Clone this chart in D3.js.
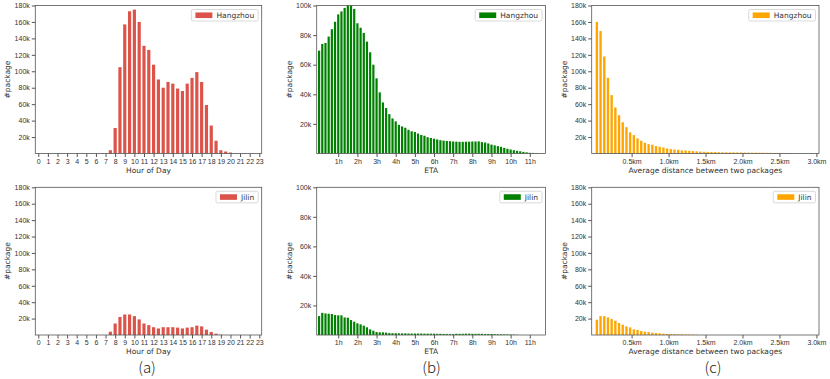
<!doctype html>
<html lang="en">
<head>
<meta charset="UTF-8">
<title>Package statistics</title>
<style>
  body { margin: 0; background: #fff; }
  svg { display: block; font-family: "DejaVu Sans", sans-serif; }
  .tick text { font-size: 7px; fill: #333; }
  .tick line { stroke: #555; }
  .domain { display: none; }
  .frame { fill: none; stroke: #555; stroke-width: 0.8; }
  .lab { font-size: 7.5px; fill: #333; }
  .cap { font-family: "Noto Sans CJK SC", "DejaVu Sans", sans-serif; font-size: 15px; fill: #222; font-weight: 300; }
</style>
</head>
<body>
<script src="https://cdn.jsdelivr.net/npm/d3@7"></script>
<script>
// hour of day (half-hour bins), thousands of packages
var hourBinsHZ = [7.5, 8, 8.5, 9, 9.5, 10, 10.5, 11, 11.5, 12, 12.5, 13, 13.5, 14, 14.5, 15, 15.5, 16, 16.5, 17, 17.5, 18, 18.5, 19, 19.5, 20];
var hourHZ = [4, 31, 105, 157, 173, 175, 160, 131, 126, 108, 90, 80, 87, 85, 79, 76, 85, 92, 99, 87, 59, 34, 15.5, 4, 2.4, 1.2];
var hourBinsJL = [7.5, 8, 8.5, 9, 9.5, 10, 10.5, 11, 11.5, 12, 12.5, 13, 13.5, 14, 14.5, 15, 15.5, 16, 16.5, 17, 17.5, 18, 18.5, 19];
var hourJL = [4, 14, 22, 25, 25, 23, 19, 14, 12, 9.5, 8, 9.5, 9.5, 9.5, 9, 8, 9, 9.5, 11.5, 10.5, 6.5, 3.7, 1.6, 0.4];

// ETA, 10-minute bins starting at 0h
var etaStep = 1 / 6;
var etaHZ = [69.5, 74, 74.7, 79, 84, 89, 94, 96, 98.4, 100, 100, 97.7, 88, 85, 81.5, 75.6, 68.4, 60, 50.8, 41.3,
  34.5, 30.7, 26.6, 23.7, 21.7, 19.4, 18.3, 17.4, 16, 15, 14.5, 13.5, 12.5, 12, 11, 10.5, 10, 9.5, 9, 8.7,
  8.5, 8.3, 8.1, 8, 7.9, 7.9, 8, 8, 8.1, 8.1, 8.2, 7.7, 7.4, 6.8, 6, 5.5, 5, 4.5, 3.8, 3.2,
  2.7, 2.2, 1.8, 1.5, 1.1, 0.8, 0.5, 0.4, 0.3];
var etaJL = [12.8, 15, 14.6, 14.4, 14.2, 13.5, 13.3, 13.3, 11.9, 11.7, 10.1, 9, 7.9, 7.2, 6.3, 5.2, 3.8, 2.9, 2, 1.8,
  1.8, 1.6, 1.3, 1.2, 1.2, 1.1, 1.1, 1.1, 1, 1, 1, 1, 1, 0.9, 0.9, 0.9, 0.9, 0.8, 0.8, 0.7,
  0.7, 0.6, 0.6, 0.8, 0.8, 0.8, 0.9, 0.9, 0.8, 0.8, 0.8, 0.8, 0.7, 0.7, 0.7, 0.6, 0.5, 0.5, 0.4, 0.4,
  0.3, 0.3, 0.2];

// average distance between two packages, 0.05km bins
var distStart = 0.03, distStep = 0.05;
var distHZ = [160, 149, 118, 92, 71, 56, 46.5, 38, 32, 25.7, 22.4, 18.4, 15.5, 13, 11.4, 10.6, 9, 8.2, 7.3, 6.1,
  5.3, 4.9, 4.5, 3.7, 3.7, 3.3, 2.9, 2.6, 2.3, 2.1, 1.9, 1.8, 1.7, 1.6, 1.5, 1.4, 1.3, 1.3, 1.2, 1.2,
  1.1, 1.1, 1, 1, 0.9, 0.9, 0.8, 0.8, 0.7, 0.7, 0.6, 0.6, 0.5];
var distJL = [18.6, 23, 23, 21.5, 19.4, 17.4, 14.6, 12.6, 10.5, 9.3, 6.9, 6.1, 4.9, 4, 3.6, 2.8, 2.4, 2, 1.6, 1.3,
  1.1, 1, 0.9, 0.8, 0.7, 0.6, 0.5, 0.4];

var hourTicks = d3.range(0, 24);
var etaTicks = [1, 2, 3, 4, 5, 6, 7, 8, 9, 10, 11];
var distTicks = [0.5, 1.0, 1.5, 2.0, 2.5, 3.0];
var ticks180 = [20, 40, 60, 80, 100, 120, 140, 160, 180];
var ticks100 = [20, 40, 60, 80, 100];

var svg = d3.select("body").append("svg").attr("width", 830).attr("height", 379);

function panel(o) {
  var g = svg.append("g");
  var x = d3.scaleLinear().domain(o.xDom).range([o.left, o.right]);
  var y = d3.scaleLinear().domain([0, o.yMax]).range([o.bottom, o.top]);
  var bw = x(o.bw) - x(0);

  g.selectAll("rect.bar")
    .data(o.vals)
    .enter()
    .append("rect")
    .attr("class", "bar")
    .attr("x", function(d, i){ return x(o.pos(i)) - bw / 2; })
    .attr("y", function(d){ return y(d); })
    .attr("width", bw)
    .attr("height", function(d){ return o.bottom - y(d); })
    .attr("fill", o.color);

  g.append("g")
    .attr("transform", "translate(0," + o.bottom + ")")
    .call(d3.axisBottom(x).tickValues(o.xTicks).tickFormat(o.xFmt).tickSize(3.5).tickPadding(2));

  g.append("g")
    .attr("transform", "translate(" + o.left + ",0)")
    .call(d3.axisLeft(y).tickValues(o.yTicks).tickFormat(function(d){ return d + "k"; }).tickSize(3.5).tickPadding(2));

  g.append("rect").attr("class", "frame")
    .attr("x", o.left).attr("y", o.top)
    .attr("width", o.right - o.left).attr("height", o.bottom - o.top);

  g.append("text").attr("class", "lab")
    .attr("x", (o.left + o.right) / 2).attr("y", o.bottom + 19)
    .attr("text-anchor", "middle").text(o.xLabel);

  g.append("text").attr("class", "lab")
    .attr("transform", "translate(" + (o.left - 25) + "," + ((o.top + o.bottom) / 2) + ") rotate(-90)")
    .attr("text-anchor", "middle").text("#package");

  // legend
  var lg = g.append("g");
  var txt = lg.append("text").attr("class", "lab").text(o.name);
  var tw = txt.node().getComputedTextLength();
  var w = 4 + 17 + 4 + tw + 4, h = 11.5;
  var lx = o.right - 3.5 - w, ly = o.top + 4;
  lg.insert("rect", "text")
    .attr("x", lx).attr("y", ly).attr("width", w).attr("height", h)
    .attr("rx", 1.5).attr("fill", "#fff").attr("stroke", "#d0d0d0").attr("stroke-width", 0.8);
  lg.append("rect")
    .attr("x", lx + 4).attr("y", ly + h / 2 - 2.8).attr("width", 17).attr("height", 5.6)
    .attr("fill", o.color);
  txt.attr("x", lx + 25).attr("y", ly + h / 2 + 2.7);
}

var rows = [{top: 5.5, bottom: 153.5}, {top: 187.3, bottom: 335}];
var red = "#dc5349", green = "#008000", orange = "#ffa500";

var hourBase = {xDom: [-0.31, 23.25], left: 35.3, right: 261.7, yMax: 180, yTicks: ticks180,
  xTicks: hourTicks, xFmt: d3.format("d"), xLabel: "Hour of Day", bw: 0.33, color: red};
var etaBase = {xDom: [-0.125, 11.82], left: 316.7, right: 545.5, yMax: 100, yTicks: ticks100,
  xTicks: etaTicks, xFmt: function(d){ return d + "h"; }, xLabel: "ETA", bw: 0.115, color: green,
  pos: function(i){ return i * etaStep; }};
var distBase = {xDom: [-0.04, 3.035], left: 591.7, right: 819, yMax: 180, yTicks: ticks180,
  xTicks: distTicks, xFmt: function(d){ return d.toFixed(1) + "km"; }, xLabel: "Average distance between two packages",
  bw: 0.032, color: orange, pos: function(i){ return distStart + i * distStep; }};

panel(Object.assign({}, hourBase, rows[0], {vals: hourHZ, name: "Hangzhou", pos: function(i){ return hourBinsHZ[i]; }}));
panel(Object.assign({}, hourBase, rows[1], {vals: hourJL, name: "Jilin", pos: function(i){ return hourBinsJL[i]; }}));
panel(Object.assign({}, etaBase, rows[0], {vals: etaHZ, name: "Hangzhou"}));
panel(Object.assign({}, etaBase, rows[1], {vals: etaJL, name: "Jilin"}));
panel(Object.assign({}, distBase, rows[0], {vals: distHZ, name: "Hangzhou"}));
panel(Object.assign({}, distBase, rows[1], {vals: distJL, name: "Jilin"}));

// sub-figure captions
[["(a)", 147], ["(b)", 431.5], ["(c)", 713]].forEach(function(c){
  svg.append("text").attr("class", "cap")
    .attr("x", c[1]).attr("y", 373).attr("text-anchor", "middle").text(c[0]);
});
</script>
</body>
</html>
